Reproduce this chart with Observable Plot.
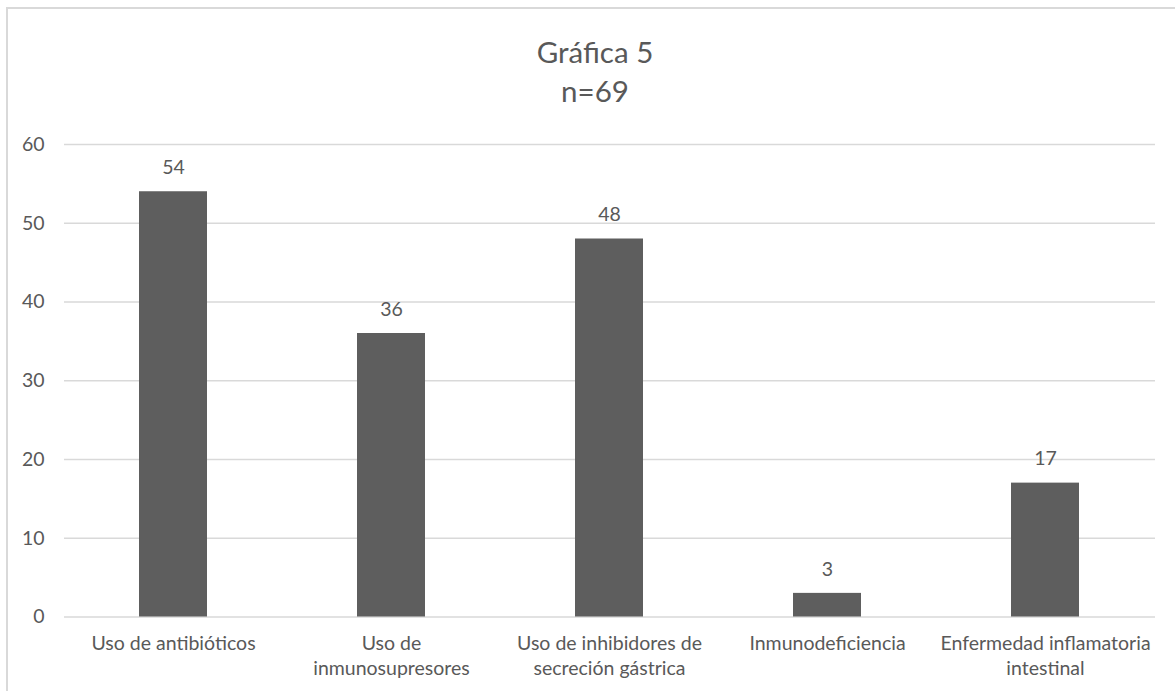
<!DOCTYPE html>
<html>
<head>
<meta charset="utf-8">
<script src="https://cdn.jsdelivr.net/npm/d3@7"></script>
<script src="https://cdn.jsdelivr.net/npm/@observablehq/plot@0.6"></script>
<style>
  html, body { margin: 0; padding: 0; background: #fff; overflow: hidden; }
  body { width: 1175px; height: 691px; position: relative; font-family: Lato, "Open Sans", sans-serif; }
  #frame { position: absolute; left: 6px; top: 7px; width: 1300px; height: 800px;
           border-left: 2px solid #d9d9d9; border-top: 2px solid #d9d9d9; pointer-events: none; }
  #title { height: 130px; width: 1190px; text-align: center; color: #595959; box-sizing: border-box; padding-top: 32px; }
  #title .t1, #title .t2 { font-size: 29.5px; line-height: 39px; }
</style>
</head>
<body>
<div id="frame"></div>
<div id="title"><div class="t1">Gráfica 5</div><div class="t2">n=69</div></div>
<div id="chart"></div>
<script>
// Factores asociados (n=69)
const categories = [
  "Uso de antibióticos",
  "Uso de inmunosupresores",
  "Uso de inhibidores de secreción gástrica",
  "Inmunodeficiencia",
  "Enfermedad inflamatoria intestinal"
];
const labels = [
  "Uso de antibióticos",
  "Uso de\ninmunosupresores",
  "Uso de inhibidores de\nsecreción gástrica",
  "Inmunodeficiencia",
  "Enfermedad inflamatoria\nintestinal"
];
const values = [54, 36, 48, 3, 17];
const yTicks = [0, 10, 20, 30, 40, 50, 60];

const data = categories.map((c, i) => ({category: c, label: labels[i], value: values[i]}));

const ink = "#595959";
const fs = 19.5;
const chart = Plot.plot({
  width: 1175,
  height: 561,
  marginTop: 14,
  marginBottom: 74.5,
  marginLeft: 64,
  marginRight: 20,
  style: {fontFamily: "Lato, 'Open Sans', sans-serif", color: ink, background: "transparent", overflow: "visible"},
  x: {domain: categories, paddingInner: 0.688, paddingOuter: 0.344, axis: null},
  y: {domain: [0, 60], axis: null},
  marks: [
    Plot.ruleY(yTicks, {stroke: "#d9d9d9", strokeWidth: 1.3}),
    Plot.barY(data, {x: "category", y: "value", fill: "#5e5e5e"}),
    Plot.text(yTicks, {x: null, y: d => d, text: d => String(d), frameAnchor: "left", textAnchor: "end", dx: -20, fontSize: fs, fill: ink}),
    Plot.text(data, {x: "category", y: "value", text: d => String(d.value), dy: -24, lineAnchor: "middle", fontSize: fs, fill: ink}),
    Plot.text(data, {x: "category", text: "label", frameAnchor: "bottom", lineAnchor: "top", dy: 15, lineHeight: 1.28, fontSize: fs, fill: ink})
  ]
});
document.getElementById("chart").appendChild(chart);
</script>
</body>
</html>
